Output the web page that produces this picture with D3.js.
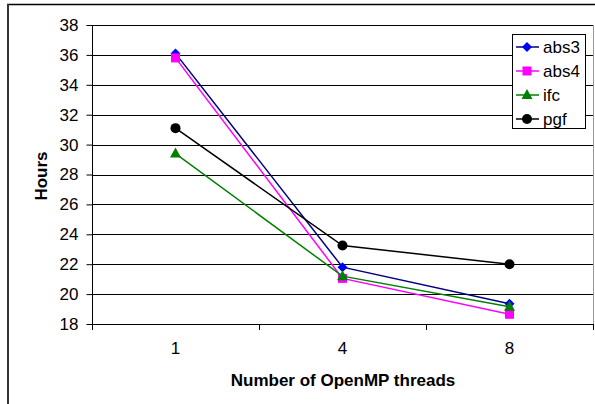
<!DOCTYPE html>
<html><head><meta charset="utf-8">
<script src="https://cdn.jsdelivr.net/npm/d3@7/dist/d3.min.js"></script>
<style>
body{margin:0;background:#fff;}
svg{display:block;font-family:"Liberation Sans",Arial,sans-serif;}
</style></head>
<body><svg id="c" width="595" height="404"></svg>
<script>
const categories = ["1","4","8"];
const abs3 = [36.1, 21.8, 19.35];
const abs4 = [35.8, 21.05, 18.65];
const ifc = [29.4, 21.2, 19.15];
const pgf = [31.1, 23.25, 22.0];
const yTicks = [18,20,22,24,26,28,30,32,34,36,38];
const seriesNames = ["abs3","abs4","ifc","pgf"];
const xTitle = "Number of OpenMP threads";
const yTitle = "Hours";

const series = [
  {name:"abs3", values:abs3, line:"#000080", fill:"#0000ff", shape:"diamond"},
  {name:"abs4", values:abs4, line:"#ff00ff", fill:"#ff00ff", shape:"square"},
  {name:"ifc", values:ifc, line:"#008000", fill:"#008000", shape:"triangle"},
  {name:"pgf", values:pgf, line:"#000000", fill:"#000000", shape:"circle"}
];

const svg = d3.select("#c");
const L = 92, R = 593, T = 25, B = 324;

// outer frame
svg.append("line").attr("x1",7).attr("x2",595).attr("y1",4.5).attr("y2",4.5).attr("stroke","#000").attr("stroke-width",1.5);
svg.append("line").attr("x1",8).attr("x2",8).attr("y1",4).attr("y2",404).attr("stroke","#333").attr("stroke-width",2);

const x = d3.scaleBand().domain(categories).range([L,R]);
const y = d3.scaleLinear().domain([18,38]).range([B,T]);

// gridlines
svg.append("g").selectAll("line").data(yTicks).join("line")
  .attr("x1",L).attr("x2",R)
  .attr("y1",d=>Math.round(y(d))+0.5).attr("y2",d=>Math.round(y(d))+0.5)
  .attr("stroke","#000").attr("stroke-width",1);
// plot area right/top border
svg.append("line").attr("x1",R+0.5).attr("x2",R+0.5).attr("y1",T).attr("y2",B).attr("stroke","#999");

// y axis
const ya = svg.append("g").attr("transform",`translate(${L+0.5},0)`)
  .call(d3.axisLeft(y).tickValues(yTicks).tickSize(6).tickPadding(8).tickFormat(d3.format("d")));
ya.select(".domain").attr("stroke","#000").attr("d",`M0,${T}V${B+4}`);
ya.selectAll(".tick line").attr("stroke","#000");
ya.selectAll(".tick text").attr("font-size",17).attr("fill","#000").attr("font-family","Liberation Sans, Arial, sans-serif");

// x axis
const xa = svg.append("g").attr("transform",`translate(0,${Math.round(B)+0.5})`)
  .call(d3.axisBottom(x).tickSize(0).tickPadding(17));
xa.select(".domain").remove();
xa.selectAll(".tick text").attr("font-size",17).attr("fill","#000").attr("font-family","Liberation Sans, Arial, sans-serif");
// category separator ticks
const sep = [L].concat(categories.map(c=>x(c)+x.bandwidth()));
svg.append("g").selectAll("line").data(sep).join("line")
  .attr("x1",d=>Math.round(d)+0.5).attr("x2",d=>Math.round(d)+0.5)
  .attr("y1",B).attr("y2",B+6).attr("stroke","#000");

// titles
svg.append("text").attr("x",343).attr("y",386).attr("text-anchor","middle")
  .attr("font-weight","bold").attr("font-size",17).text(xTitle);
svg.append("text").attr("transform","translate(47,176) rotate(-90)").attr("text-anchor","middle")
  .attr("font-weight","bold").attr("font-size",17).text(yTitle);

function marker(g, shape, fill, cx, cy){
  if(shape==="diamond") g.append("path").attr("d",`M${cx},${cy-5}L${cx+5},${cy}L${cx},${cy+5}L${cx-5},${cy}Z`).attr("fill",fill);
  else if(shape==="square") g.append("rect").attr("x",cx-4.5).attr("y",cy-4.5).attr("width",9).attr("height",9).attr("fill",fill);
  else if(shape==="triangle") g.append("path").attr("d",`M${cx},${cy-6}L${cx+5.5},${cy+4}L${cx-5.5},${cy+4}Z`).attr("fill",fill);
  else g.append("circle").attr("cx",cx).attr("cy",cy).attr("r",5).attr("fill",fill);
}

const line = d3.line().x((d,i)=>x(categories[i])+x.bandwidth()/2).y(d=>y(d));
series.forEach(s=>{
  const g = svg.append("g");
  g.append("path").attr("d",line(s.values)).attr("fill","none").attr("stroke",s.line).attr("stroke-width",1.5);
  s.values.forEach((v,i)=>marker(g,s.shape,s.fill,x(categories[i])+x.bandwidth()/2,y(v)));
});

// legend
const lg = svg.append("g");
lg.append("rect").attr("x",512.5).attr("y",34.5).attr("width",73).attr("height",94).attr("fill","#fff").attr("stroke","#000");
series.forEach((s,i)=>{
  const cy = 47 + i*24;
  lg.append("line").attr("x1",516).attr("x2",539).attr("y1",cy).attr("y2",cy).attr("stroke",s.line).attr("stroke-width",1.5);
  marker(lg,s.shape,s.fill,527,cy);
  lg.append("text").attr("x",543).attr("y",cy+6).attr("font-size",17).text(seriesNames[i]);
});
</script></body></html>
